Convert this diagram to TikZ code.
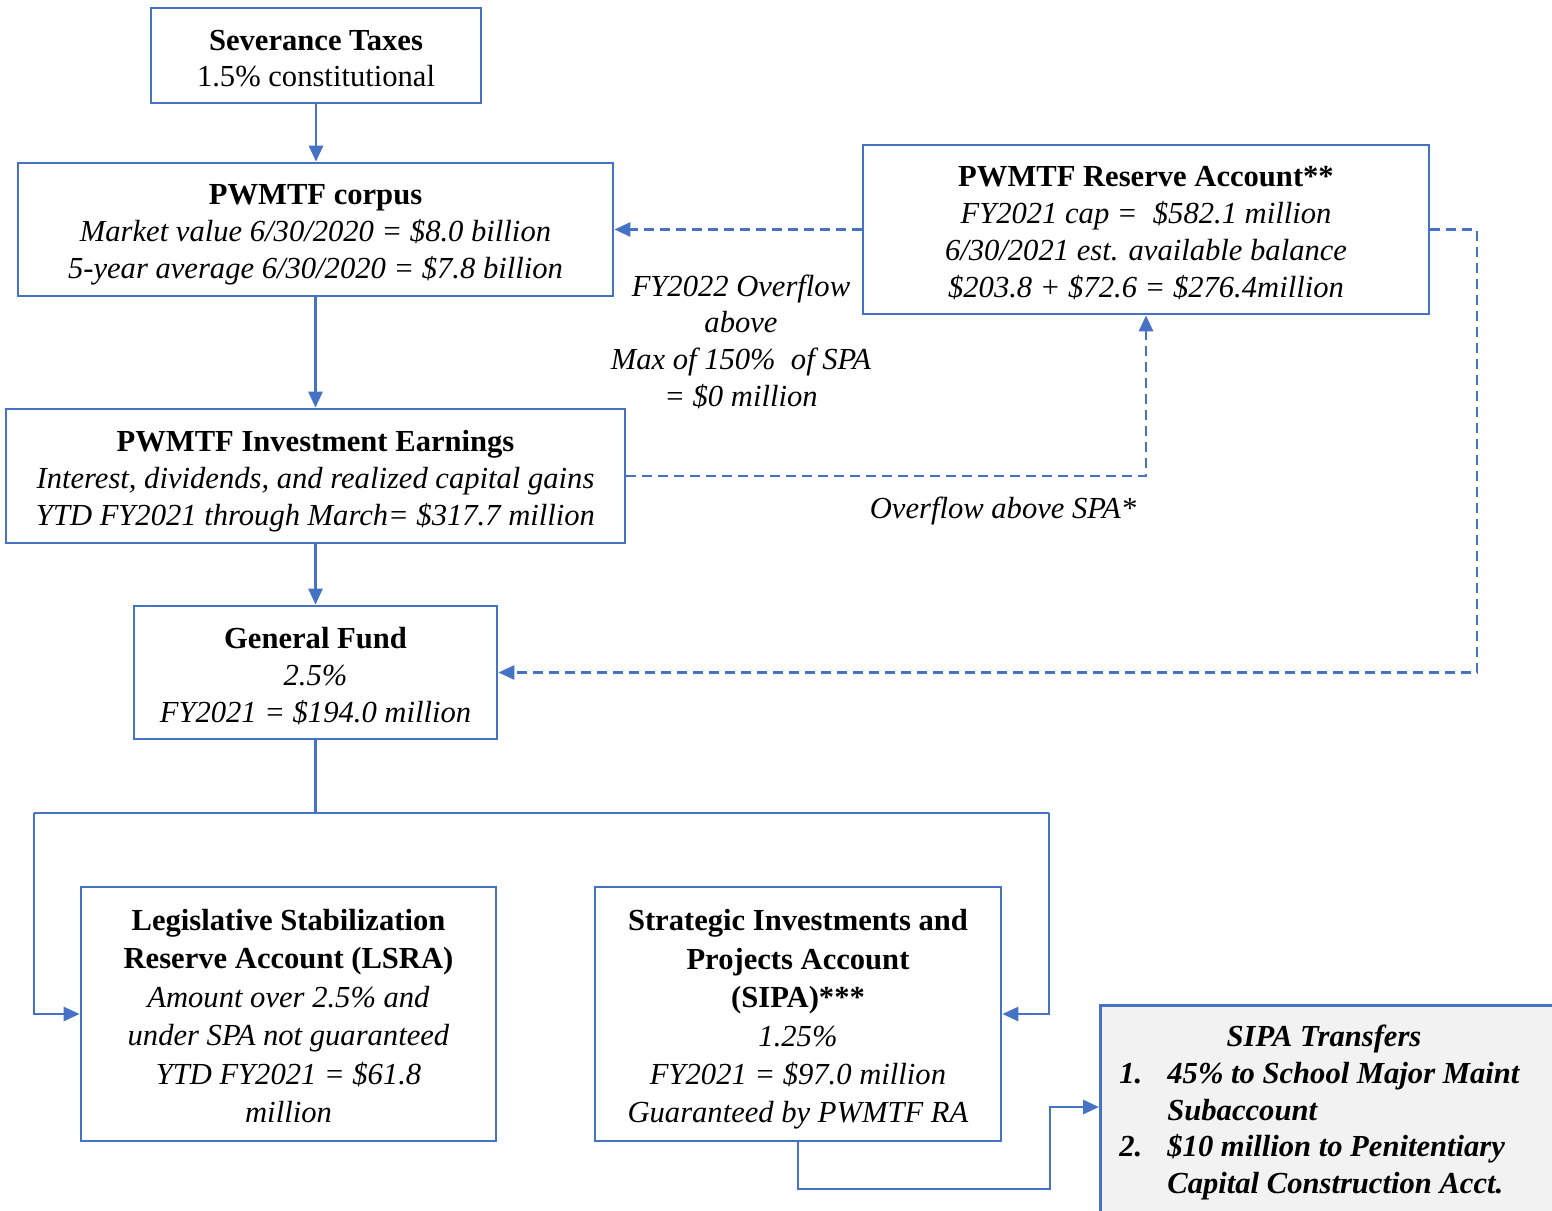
\documentclass[tikz,border=0pt]{standalone}
\usepackage{fontspec}
\setmainfont{Liberation Serif}
\usetikzlibrary{arrows.meta,calc}
\definecolor{myblue}{HTML}{4472C4}
\definecolor{lightgray}{HTML}{F2F2F2}
\begin{document}
\begin{tikzpicture}[x=0.5pt,y=-0.5pt,
  txt/.style={font=\fontsize{15.3}{18.5}\selectfont, inner sep=0pt},
  boxtext/.style={txt, align=center},
  box/.style={draw=myblue, line width=1.4pt, inner sep=0pt, fill=white},
  conn/.style={draw=myblue, line width=1.4pt, -{Triangle[length=8pt,width=7pt]}},
  plainconn/.style={draw=myblue, line width=1.4pt},
  dashconn/.style={conn, dash pattern=on 5pt off 3pt}
]
\path[use as bounding box, fill=white] (0,0) rectangle (1552,1210);

% boxes
\node[box, minimum width=165pt, minimum height=47.5pt] (sev) at (316,55.5) {};
\node[box, minimum width=297.5pt, minimum height=66.5pt] (corpus) at (315.5,229.5) {};
\node[box, minimum width=283pt, minimum height=84.5pt] (reserve) at (1146,229.5) {};
\node[box, minimum width=309.5pt, minimum height=67pt] (earn) at (315.5,476) {};
\node[box, minimum width=181.5pt, minimum height=66.5pt] (gf) at (315.5,672.5) {};
\node[box, minimum width=207.5pt, minimum height=127pt] (lsra) at (288.5,1014) {};
\node[box, minimum width=203pt, minimum height=127pt] (sipa) at (798,1014) {};
\node[box, fill=lightgray, anchor=north west, minimum width=235pt, minimum height=110pt] (trans) at (1099,1004) {};

% box texts
\node[boxtext, font=\fontsize{15.3}{18}\selectfont] (sevt) at ($(sev.center)+(0,3)$)
  {\textbf{Severance Taxes}\\1.5\% constitutional};
\node[boxtext] (corpust) at ($(corpus.center)+(0,5)$)
  {\textbf{PWMTF corpus}\\\textit{Market value 6/30/2020 = \$8.0 billion}\\\textit{5-year average 6/30/2020 = \$7.8 billion}};
\node[boxtext] (reservet) at ($(reserve.center)+(0,4)$)
  {\textbf{PWMTF Reserve Account**}\\\textit{FY2021 cap =\ \ \$582.1 million}\\\textit{6/30/2021 est. available balance}\\\textit{\$203.8 + \$72.6 = \$276.4million}};
\node[boxtext] (earnt) at ($(earn.center)+(0,5)$)
  {\textbf{PWMTF Investment Earnings}\\\textit{Interest, dividends, and realized capital gains}\\\textit{YTD FY2021 through March= \$317.7 million}};
\node[boxtext] (gft) at ($(gf.center)+(0,3.5)$)
  {\textbf{General Fund}\\\textit{2.5\%}\\\textit{FY2021 = \$194.0 million}};
\node[boxtext, font=\fontsize{15.3}{19.2}\selectfont] (lsrat) at ($(lsra.center)+(0,2)$)
  {\textbf{Legislative Stabilization}\\\textbf{Reserve Account (LSRA)}\\\textit{Amount over 2.5\% and}\\\textit{under SPA not guaranteed}\\\textit{YTD FY2021 = \$61.8}\\\textit{million}};
\node[boxtext, font=\fontsize{15.3}{19.2}\selectfont] (sipat) at ($(sipa.center)+(0,5.5)$)
  {\textbf{Strategic Investments and}\\\textbf{Projects Account}\\\textbf{(SIPA)***}\\\textit{1.25\%}\\\textit{FY2021 = \$97.0 million}\\\textit{Guaranteed by PWMTF RA}};

\node[txt, anchor=base] (th) at (1324,1046) {\textbf{\textit{SIPA Transfers}}};
\node[txt, anchor=base west] (n1) at (1119,1083) {\textbf{\textit{1.}}};
\node[txt, anchor=base west] (t1a) at (1167,1083) {\textbf{\textit{45\% to School Major Maint}}};
\node[txt, anchor=base west] (t1b) at (1167,1120) {\textbf{\textit{Subaccount}}};
\node[txt, anchor=base west] (n2) at (1119,1156) {\textbf{\textit{2.}}};
\node[txt, anchor=base west] (t2a) at (1167,1156) {\textbf{\textit{\$10 million to Penitentiary}}};
\node[txt, anchor=base west] (t2b) at (1167,1193) {\textbf{\textit{Capital Construction Acct.}}};

\node[boxtext, font=\fontsize{15.3}{18.35}\selectfont] (lab1) at (741,341.5)
  {\textit{FY2022 Overflow}\\\textit{above}\\\textit{Max of 150\%\ \ of SPA}\\\textit{= \$0 million}};
\node[txt, anchor=base] (lab2) at (1003,518) {\textit{Overflow above SPA*}};

\coordinate (rr) at (1477,672.5);
\coordinate (bl) at (34,813);
\coordinate (br) at (1049,813);
\coordinate (split) at (gf.south |- bl);
\coordinate (sb) at (1050,1189);
\coordinate (tin) at (1099,1107);

\draw[conn] (sev.south) -- (sev.south |- corpus.north);
\draw[conn] (corpus.south) -- (earn.north);
\draw[conn] (earn.south) -- (gf.north);
\draw[dashconn] (reserve.west) -- (corpus.east);
\draw[dashconn] (earn.east) -| (reserve.south);
\draw[dashconn] (reserve.east) -| (rr) -- (gf.east);
\draw[plainconn] (gf.south) -- (split);
\draw[plainconn] (bl) -- (br);
\draw[conn] (bl) |- (lsra.west);
\draw[conn] (br) |- (sipa.east);
\draw[conn] (sipa.south) |- (sb) |- (tin);
\end{tikzpicture}
\end{document}
